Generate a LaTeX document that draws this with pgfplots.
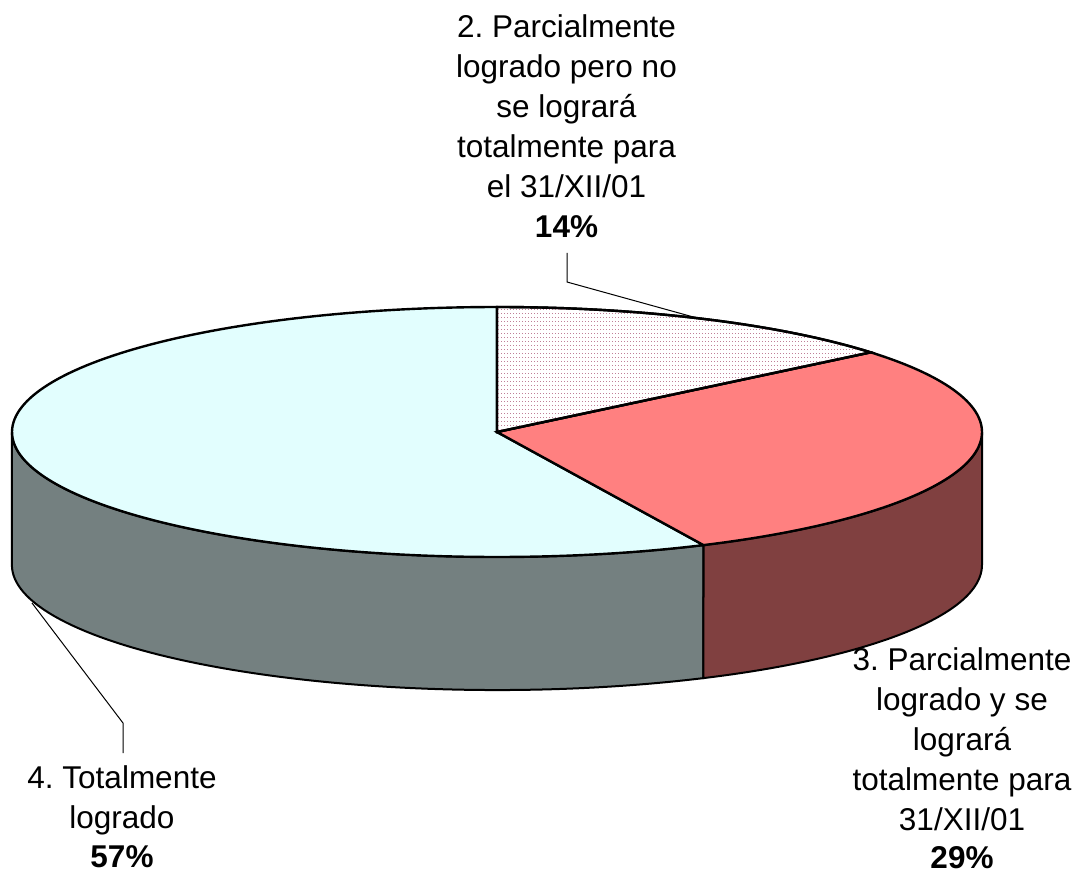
\documentclass[border=0pt]{standalone}
\usepackage{pgfplots}
\pgfplotsset{compat=1.18}
\usepackage{fontspec}
\setmainfont{Liberation Sans}
\usetikzlibrary{patterns}
\frenchspacing
\definecolor{dotc}{HTML}{C08098}
\definecolor{topB}{HTML}{FF8080}
\definecolor{sideB}{HTML}{804040}
\definecolor{topC}{HTML}{E2FEFE}
\definecolor{sideC}{HTML}{748080}
\pgfdeclarepatternformonly{finedots}{\pgfqpoint{-0.1pt}{-0.1pt}}{\pgfqpoint{0.7pt}{0.7pt}}{\pgfqpoint{1.5pt}{2pt}}{%
  \pgfpathrectangle{\pgfqpoint{0pt}{0pt}}{\pgfqpoint{0.5pt}{0.5pt}}\pgfusepath{fill}}
\newcommand{\lblfont}{\fontsize{15.75}{20}\selectfont\frenchspacing}
\tikzset{lbl/.style={anchor=base,inner sep=0pt,font=\lblfont}}
% data (percent)
\def\vA{14}\def\vB{29}\def\vC{57}
\pgfmathsetmacro{\aZ}{90}
\pgfmathsetmacro{\aA}{90-\vA*3.6}
\pgfmathsetmacro{\aB}{\aA-\vB*3.6}
\pgfmathsetmacro{\aBB}{\aB+360}
\pgfmathsetmacro{\aC}{\aB-\vC*3.6}
\begin{document}
\begin{tikzpicture}
\begin{axis}[x=0.5pt,y=0.5pt,xmin=0,xmax=1079,ymin=0,ymax=874,hide axis,clip=false]
\path (axis cs:0,0) rectangle (axis cs:1079,874);
% side walls
\addplot[fill=sideC,draw=black,line width=1pt,domain=180:\aBB,samples=100,variable=\t]
  ({497+485*cos(\t)},{442+125*sin(\t)}) -- ++(0pt,-66.5pt)
  arc[start angle=\aBB, end angle=180, x radius=242.5pt, y radius=62.5pt] -- cycle;
\addplot[fill=sideB,draw=black,line width=1pt,domain=\aBB:360,samples=60,variable=\t]
  ({497+485*cos(\t)},{442+125*sin(\t)}) -- ++(0pt,-66.5pt)
  arc[start angle=360, end angle=\aBB, x radius=242.5pt, y radius=62.5pt] -- cycle;
% top faces
\addplot[fill=topC,draw=black,line width=1.2pt,domain=\aZ:\aBB,samples=150,variable=\t]
  ({497+485*cos(\t)},{442+125*sin(\t)}) -- (axis cs:497,442) -- cycle;
\addplot[fill=topB,draw=black,line width=1.2pt,domain=\aB:\aA,samples=80,variable=\t]
  ({497+485*cos(\t)},{442+125*sin(\t)}) -- (axis cs:497,442) -- cycle;
\addplot[preaction={fill=white},pattern=finedots,pattern color=dotc,draw=black,line width=1.2pt,domain=\aA:\aZ,samples=60,variable=\t]
  ({497+485*cos(\t)},{442+125*sin(\t)}) -- (axis cs:497,442) -- cycle;
% leader lines
\addplot[black,line width=0.5pt] coordinates {(567,621) (567,592) (697,556)};
\addplot[black,line width=0.5pt] coordinates {(123,121) (123,151) (32,271)};
% labels
\node[lbl] at (axis cs:566.5,836) {2. Parcialmente};
\node[lbl] at (axis cs:566.5,796) {logrado pero no};
\node[lbl] at (axis cs:566.5,756) {se logrará};
\node[lbl] at (axis cs:566.5,716) {totalmente para};
\node[lbl] at (axis cs:566.5,676) {el 31/XII/01};
\node[lbl] at (axis cs:566.5,636) {\bfseries 14\%};
\node[lbl] at (axis cs:962,204) {3. Parcialmente};
\node[lbl] at (axis cs:962,164) {logrado y se};
\node[lbl] at (axis cs:962,124) {logrará};
\node[lbl] at (axis cs:962,84) {totalmente para};
\node[lbl] at (axis cs:962,44) {31/XII/01};
\node[lbl] at (axis cs:962,6) {\bfseries 29\%};
\node[lbl] at (axis cs:122,86) {4. Totalmente};
\node[lbl] at (axis cs:122,46) {logrado};
\node[lbl] at (axis cs:122,7) {\bfseries 57\%};
\end{axis}
\end{tikzpicture}
\end{document}
